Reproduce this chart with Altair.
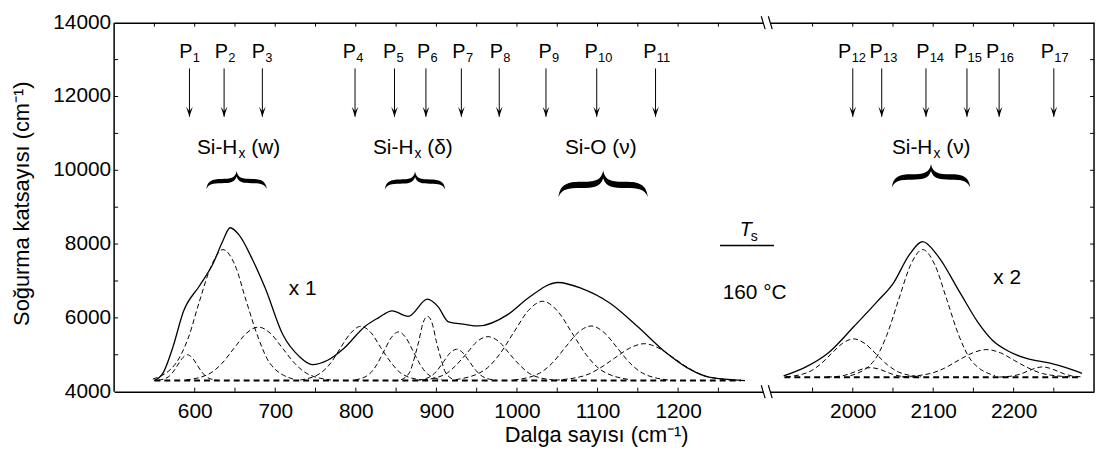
import altair as alt
import pandas as pd

FONT = "Liberation Sans"

# ---------------- axes ----------------
LEFT_X_DOMAIN = [500, 1310]
RIGHT_X_DOMAIN = [1893, 2300]
Y_DOMAIN = [4000, 14000]
LEFT_X_LABELS = [600, 700, 800, 900, 1000, 1100, 1200]
RIGHT_X_LABELS = [2000, 2100, 2200]
Y_LABELS = [4000, 6000, 8000, 10000, 12000, 14000]
Y_TITLE = "Soğurma katsayısı (cm⁻¹)"
X_TITLE = "Dalga sayısı (cm⁻¹)"
LEFT_X_TICKS_BOTTOM = [600, 650, 700, 750, 800, 850, 900, 950, 1000, 1050, 1100, 1150, 1200, 1250]
LEFT_X_TICKS_TOP = [550, 600, 650, 700, 750, 800, 850, 900, 950, 1000, 1050, 1100, 1150, 1200, 1250]
RIGHT_X_TICKS = [1950, 2000, 2050, 2100, 2150, 2200, 2250]
Y_TICKS = [5000, 6000, 7000, 8000, 9000, 10000, 11000, 12000, 13000]

# ---------------- spectra ----------------
LEFT_TOTAL_X = [550, 561, 573, 586, 606, 623, 635, 644, 655, 672, 688, 709, 730, 746, 765, 785,
                812, 828, 845, 865, 889, 902, 915, 933, 952, 989, 1014, 1051, 1080, 1116, 1149,
                1186, 1211, 1240, 1283]
LEFT_TOTAL_Y = [4300, 4515, 5211, 6172, 6871, 7481, 8091, 8442, 8250, 7568, 6782, 5562, 4950, 4732,
                4850, 5170, 5780, 6000, 6190, 6042, 6505, 6303, 5892, 5832, 5780, 6094, 6539, 6958,
                6800, 6390, 5780, 5039, 4650, 4384, 4300]
RIGHT_TOTAL_X = [1914, 1940, 1969, 2002, 2030, 2051, 2070, 2087, 2105, 2133, 2155, 2174, 2195,
                 2215, 2244, 2265, 2285]
RIGHT_TOTAL_Y = [4426, 4650, 5040, 5780, 6434, 6958, 7700, 8065, 7700, 6696, 5900, 5387, 5080,
                 4908, 4777, 4650, 4497]

LEFT_BASE_X = [550, 1278]
LEFT_BASE_Y = [4300, 4300]
RIGHT_BASE_X = [1915, 2285]
RIGHT_BASE_Y = [4390, 4390]

P1_X = [555, 567, 573, 579, 585, 591, 597, 603, 609, 615, 627]
P1_Y = [4310, 4395, 4530, 4725, 4915, 5000, 4915, 4725, 4530, 4395, 4310]
P2_X = [548, 577, 592, 606, 621, 635, 650, 664, 679, 693, 722]
P2_Y = [4340, 4780, 5455, 6455, 7430, 7850, 7430, 6455, 5455, 4780, 4340]
P3_X = [589, 619, 634, 649, 664, 679, 694, 709, 724, 739, 769]
P3_Y = [4315, 4495, 4770, 5180, 5580, 5750, 5580, 5180, 4770, 4495, 4315]
P4_X = [731, 756, 769, 781, 794, 806, 819, 831, 844, 856, 881]
P4_Y = [4315, 4500, 4780, 5190, 5595, 5770, 5595, 5190, 4780, 4500, 4315]
P5_X = [799, 817, 826, 835, 844, 853, 862, 871, 880, 889, 907]
P5_Y = [4315, 4480, 4730, 5100, 5465, 5620, 5465, 5100, 4730, 4480, 4315]
P6_X = [856, 867, 872, 878, 883, 889, 895, 900, 906, 911, 922]
P6_Y = [4320, 4535, 4865, 5355, 5835, 6040, 5835, 5355, 4865, 4535, 4320]
P7_X = [877, 893, 901, 909, 917, 925, 933, 941, 949, 957, 973]
P7_Y = [4310, 4415, 4575, 4815, 5050, 5150, 5050, 4815, 4575, 4415, 4310]
P8_X = [883, 910, 923, 937, 950, 964, 978, 991, 1005, 1018, 1045]
P8_Y = [4315, 4460, 4685, 5020, 5350, 5490, 5350, 5020, 4685, 4460, 4315]
P9_X = [924, 960, 978, 996, 1014, 1032, 1050, 1068, 1086, 1104, 1140]
P9_Y = [4325, 4590, 5000, 5605, 6195, 6450, 6195, 5605, 5000, 4590, 4325]
P10_X = [996, 1028, 1044, 1060, 1076, 1092, 1108, 1124, 1140, 1156, 1188]
P10_Y = [4315, 4500, 4780, 5200, 5605, 5780, 5605, 5200, 4780, 4500, 4315]
P11_X = [1047, 1084, 1102, 1121, 1140, 1158, 1176, 1195, 1214, 1232, 1269]
P11_Y = [4310, 4435, 4625, 4905, 5180, 5300, 5180, 4905, 4625, 4435, 4310]
P12_X = [1917, 1945, 1959, 1973, 1987, 2001, 2015, 2029, 2043, 2057, 2085]
P12_Y = [4400, 4530, 4730, 5020, 5305, 5430, 5305, 5020, 4730, 4530, 4400]
P13_X = [1968, 1986, 1995, 2004, 2013, 2022, 2031, 2040, 2049, 2058, 2076]
P13_Y = [4395, 4425, 4475, 4550, 4620, 4650, 4620, 4550, 4475, 4425, 4395]
P14_X = [1997, 2027, 2042, 2057, 2072, 2087, 2102, 2117, 2132, 2147, 2177]
P14_Y = [4430, 4855, 5515, 6490, 7440, 7850, 7440, 6490, 5515, 4855, 4430]
P15_X = [2061, 2096, 2114, 2131, 2149, 2166, 2184, 2201, 2219, 2236, 2271]
P15_Y = [4400, 4490, 4635, 4845, 5050, 5140, 5050, 4845, 4635, 4490, 4400]
P16_X = [2182, 2200, 2209, 2218, 2227, 2236, 2245, 2254, 2263, 2272, 2285]
P16_Y = [4395, 4430, 4480, 4560, 4635, 4670, 4635, 4560, 4480, 4430, 4400]

LEFT_COMPONENTS = [("P1", P1_X, P1_Y), ("P2", P2_X, P2_Y), ("P3", P3_X, P3_Y), ("P4", P4_X, P4_Y),
                   ("P5", P5_X, P5_Y), ("P6", P6_X, P6_Y), ("P7", P7_X, P7_Y), ("P8", P8_X, P8_Y),
                   ("P9", P9_X, P9_Y), ("P10", P10_X, P10_Y), ("P11", P11_X, P11_Y)]
RIGHT_COMPONENTS = [("P12", P12_X, P12_Y), ("P13", P13_X, P13_Y), ("P14", P14_X, P14_Y),
                    ("P15", P15_X, P15_Y), ("P16", P16_X, P16_Y)]

# ---------------- annotations ----------------
PEAK_SUBS = ["1", "2", "3", "4", "5", "6", "7", "8", "9", "10", "11",
             "12", "13", "14", "15", "16", "17"]
ARROW_X = [593.5, 636.5, 684, 799, 848, 887, 931, 978, 1036, 1099, 1172,
           2000, 2036, 2091, 2142, 2182, 2250]
LABEL_X = [589, 633, 679, 792, 842, 884, 928, 974.5, 1035, 1092, 1165,
           1990, 2029, 2087, 2134, 2174, 2242]
ARROW_TOP = 12760
ARROW_TIP = 11450
LABEL_Y = 13030

GROUP_X = [653, 871.5, 2099]
GROUP_MAIN = ["Si-H", "Si-H", "Si-H"]
GROUP_SUB = ["x", "x", "x"]
GROUP_TAIL = ["(w)", "(δ)", "(ν)"]
GROUP_Y = 10447
SIO_X = 1104
SIO_TEXT = "Si-O (ν)"

BRACE_X = [652, 873.5, 1107, 2097.3]
BRACE_Y = [9733, 9720, 9641, 9850]

FACTOR_TEXT = ["x 1", "x 2"]
FACTOR_X = [734, 2192]
FACTOR_Y = [6610, 6913]

TS_X = 1284
TS_Y = 8206
TS_LINE_X = [1252, 1319]
TS_LINE_Y = 7960
TEMP_TEXT = "160 °C"
TEMP_X = 1295
TEMP_Y = 6520

# ---------------- style ----------------
LW, RW, H = 658, 330, 372
BRACE_PATH = ("M -1 0.3 C -0.97 0.02 -0.8 -0.04 -0.5 -0.04 C -0.2 -0.04 -0.04 -0.06 0 -0.3 "
              "C 0.04 -0.06 0.2 -0.04 0.5 -0.04 C 0.8 -0.04 0.97 0.02 1 0.3 "
              "C 0.93 0.12 0.78 0.1 0.5 0.1 C 0.22 0.1 0.06 0.08 0 -0.12 "
              "C -0.06 0.08 -0.22 0.1 -0.5 0.1 C -0.78 0.1 -0.93 0.12 -1 0.3 Z")
BRACE_SIZES = [3721, 3721, 8100, 6241]
ARROW_PATH = "M 0 0 L -0.67 -2 L 0 -1.1 L 0.67 -2 Z"
BREAK_PATH = "M -0.85 -1 L -0.25 1 M 0.25 -1 L 0.85 1"
GAP_PATH = "M -0.55 -0.35 L 0.55 -0.35 L 0.55 0.35 L -0.55 0.35 Z"

ysc = alt.Scale(domain=Y_DOMAIN, nice=False, zero=False)
AX = dict(labelFont=FONT, labelFontSize=21, labelColor="black", domainColor="black",
          domainWidth=1.5, ticks=False, grid=False, titleFont=FONT, titleColor="black",
          titleFontWeight="normal")


def panel(left):
    xdom = LEFT_X_DOMAIN if left else RIGHT_X_DOMAIN
    W = LW if left else RW
    xsc = alt.Scale(domain=xdom, nice=False, zero=False)

    def X(f="x", axis=None):
        return alt.X(f"{f}:Q", scale=xsc, axis=axis)

    def Y(f="y", axis=None):
        return alt.Y(f"{f}:Q", scale=ysc, axis=axis)

    layers = []
    top_axis = alt.Axis(orient="top", labels=False, title=None, **AX)
    if left:
        bottom_axis = alt.Axis(orient="bottom", values=LEFT_X_LABELS, labelPadding=9, format="d",
                               labelOverlap=False, labelFlush=False,
                               title=X_TITLE, titleFontSize=22, titleX=486,
                               titleY=50, titleBaseline="alphabetic", **AX)
        bx, by = LEFT_BASE_X, LEFT_BASE_Y
        tx, ty = LEFT_TOTAL_X, LEFT_TOTAL_Y
        comps = LEFT_COMPONENTS
    else:
        bottom_axis = alt.Axis(orient="bottom", values=RIGHT_X_LABELS, labelPadding=9, format="d",
                               labelOverlap=False, labelFlush=False, title=None, **AX)
        bx, by = RIGHT_BASE_X, RIGHT_BASE_Y
        tx, ty = RIGHT_TOTAL_X, RIGHT_TOTAL_Y
        comps = RIGHT_COMPONENTS

    # vertical frame line (y axis line), inside y ticks, y labels and title
    edge = 0 if left else W
    inward = 4 if left else W - 4
    layers.append(alt.Chart(pd.DataFrame({"a": [0]})).mark_rule(color="black", strokeWidth=1.5).encode(
        x=alt.value(edge), y=alt.value(0), y2=alt.value(H)))
    layers.append(alt.Chart(pd.DataFrame({"y": Y_TICKS})).mark_rule(color="black", strokeWidth=1).encode(
        y=Y(), x=alt.value(edge), x2=alt.value(inward)))
    if left:
        layers.append(alt.Chart(pd.DataFrame({"y": Y_LABELS})).mark_text(
            font=FONT, fontSize=21, align="right", baseline="middle", dx=-3, color="black").encode(
            y=Y(), x=alt.value(0), text=alt.Text("y:Q", format="d")))
        layers.append(alt.Chart(pd.DataFrame({"t": [Y_TITLE]})).mark_text(
            font=FONT, fontSize=22, align="center", baseline="middle", angle=270, color="black").encode(
            x=alt.value(-93), y=alt.value(182.5), text="t:N"))

    # baseline (carries top x axis)
    layers.append(alt.Chart(pd.DataFrame({"x": bx, "y": by})).mark_line(
        color="black", strokeWidth=2, strokeDash=[6, 4]).encode(x=X(axis=top_axis), y=Y()))

    # components
    rows = []
    for name, xs, ys in comps:
        for a, b in zip(xs, ys):
            rows.append({"x": a, "y": b, "peak": name})
    layers.append(alt.Chart(pd.DataFrame(rows)).mark_line(
        color="black", strokeWidth=1, strokeDash=[5, 3], interpolate="monotone").encode(
        x=X(axis=bottom_axis), y=Y(), detail="peak:N"))

    # total spectrum
    layers.append(alt.Chart(pd.DataFrame({"x": tx, "y": ty})).mark_line(
        color="black", strokeWidth=1.3, interpolate="monotone").encode(x=X(), y=Y()))

    # inside x ticks
    xt_bottom = LEFT_X_TICKS_BOTTOM if left else RIGHT_X_TICKS
    xt_top = LEFT_X_TICKS_TOP if left else RIGHT_X_TICKS
    layers.append(alt.Chart(pd.DataFrame({"x": xt_bottom})).mark_rule(color="black", strokeWidth=1).encode(
        x=X(), y=alt.value(H), y2=alt.value(H - 4)))
    layers.append(alt.Chart(pd.DataFrame({"x": xt_top})).mark_rule(color="black", strokeWidth=1).encode(
        x=X(), y=alt.value(0), y2=alt.value(4)))

    # arrows and peak labels
    idx = [i for i in range(len(ARROW_X)) if (i < 11) == left]
    adf = pd.DataFrame({"x": [ARROW_X[i] for i in idx], "lx": [LABEL_X[i] for i in idx],
                        "sub": [PEAK_SUBS[i] for i in idx],
                        "top": ARROW_TOP, "tip": ARROW_TIP, "ly": LABEL_Y, "P": "P"})
    layers.append(alt.Chart(adf).mark_rule(color="black", strokeWidth=1).encode(
        x=X(), y=Y("top"), y2="tip:Q"))
    layers.append(alt.Chart(adf).mark_point(shape=ARROW_PATH, filled=True, color="black",
                                            size=100, opacity=1, strokeWidth=0).encode(x=X(), y=Y("tip")))
    layers.append(alt.Chart(adf).mark_text(font=FONT, fontSize=20, align="center", baseline="alphabetic",
                                           color="black").encode(x=X("lx"), y=Y("ly"), text="P:N"))
    layers.append(alt.Chart(adf).mark_text(font=FONT, fontSize=13, align="left", baseline="alphabetic",
                                           dx=7, dy=4, color="black").encode(x=X("lx"), y=Y("ly"), text="sub:N"))

    # group labels
    gi = [0, 1] if left else [2]
    gdf = pd.DataFrame({"x": [GROUP_X[i] for i in gi], "main": [GROUP_MAIN[i] for i in gi],
                        "sub": [GROUP_SUB[i] for i in gi], "tail": [GROUP_TAIL[i] for i in gi],
                        "y": GROUP_Y})
    layers.append(alt.Chart(gdf).mark_text(font=FONT, fontSize=21, align="right", baseline="alphabetic",
                                           color="black").encode(x=X(), y=Y(), text="main:N"))
    layers.append(alt.Chart(gdf).mark_text(font=FONT, fontSize=14, align="left", baseline="alphabetic",
                                           dx=1, dy=4, color="black").encode(x=X(), y=Y(), text="sub:N"))
    layers.append(alt.Chart(gdf).mark_text(font=FONT, fontSize=21, align="left", baseline="alphabetic",
                                           dx=14, color="black").encode(x=X(), y=Y(), text="tail:N"))
    if left:
        layers.append(alt.Chart(pd.DataFrame({"x": [SIO_X], "y": [GROUP_Y], "t": [SIO_TEXT]})).mark_text(
            font=FONT, fontSize=21, align="center", baseline="alphabetic", color="black").encode(
            x=X(), y=Y(), text="t:N"))

    # braces
    bi = [0, 1, 2] if left else [3]
    for i in bi:
        layers.append(alt.Chart(pd.DataFrame({"x": [BRACE_X[i]], "y": [BRACE_Y[i]]})).mark_point(
            shape=BRACE_PATH, filled=True, color="black", size=BRACE_SIZES[i], opacity=1,
            strokeWidth=0).encode(x=X(), y=Y()))

    # scale factor text
    fi = 0 if left else 1
    layers.append(alt.Chart(pd.DataFrame({"x": [FACTOR_X[fi]], "y": [FACTOR_Y[fi]],
                                          "t": [FACTOR_TEXT[fi]]})).mark_text(
        font=FONT, fontSize=21, align="center", baseline="alphabetic", color="black").encode(
        x=X(), y=Y(), text="t:N"))

    if left:
        layers.append(alt.Chart(pd.DataFrame({"x": [TS_X], "y": [TS_Y], "t": ["T"]})).mark_text(
            font=FONT, fontSize=20, fontStyle="italic", align="center", baseline="alphabetic",
            color="black").encode(x=X(), y=Y(), text="t:N"))
        layers.append(alt.Chart(pd.DataFrame({"x": [TS_X], "y": [TS_Y], "t": ["s"]})).mark_text(
            font=FONT, fontSize=14, align="left", baseline="alphabetic", dx=5, dy=5,
            color="black").encode(x=X(), y=Y(), text="t:N"))
        layers.append(alt.Chart(pd.DataFrame({"x": [TS_LINE_X[0]], "x2": [TS_LINE_X[1]],
                                              "y": [TS_LINE_Y]})).mark_rule(
            color="black", strokeWidth=1.5).encode(x=X(), x2="x2:Q", y=Y()))
        layers.append(alt.Chart(pd.DataFrame({"x": [TEMP_X], "y": [TEMP_Y], "t": [TEMP_TEXT]})).mark_text(
            font=FONT, fontSize=21, align="center", baseline="alphabetic", color="black").encode(
            x=X(), y=Y(), text="t:N"))
    else:
        one = pd.DataFrame({"a": [0]})
        for yy in [0, H]:
            layers.append(alt.Chart(one).mark_point(shape=GAP_PATH, filled=True, color="white",
                                                    size=169, opacity=1, strokeWidth=0).encode(
                x=alt.value(0), y=alt.value(yy)))
            layers.append(alt.Chart(one).mark_point(shape=BREAK_PATH, filled=False, color="black",
                                                    size=169, opacity=1, strokeWidth=1.2).encode(
                x=alt.value(0), y=alt.value(yy)))

    return alt.layer(*layers).properties(width=W, height=H)


chart = alt.hconcat(panel(True), panel(False), spacing=0, bounds="flush").properties(
    padding={"left": 3, "top": 2, "right": 2, "bottom": 2}
).configure(font=FONT).configure_view(stroke=None, strokeWidth=0)

chart.save("out.html", embed_options={"renderer": "svg", "actions": False})
